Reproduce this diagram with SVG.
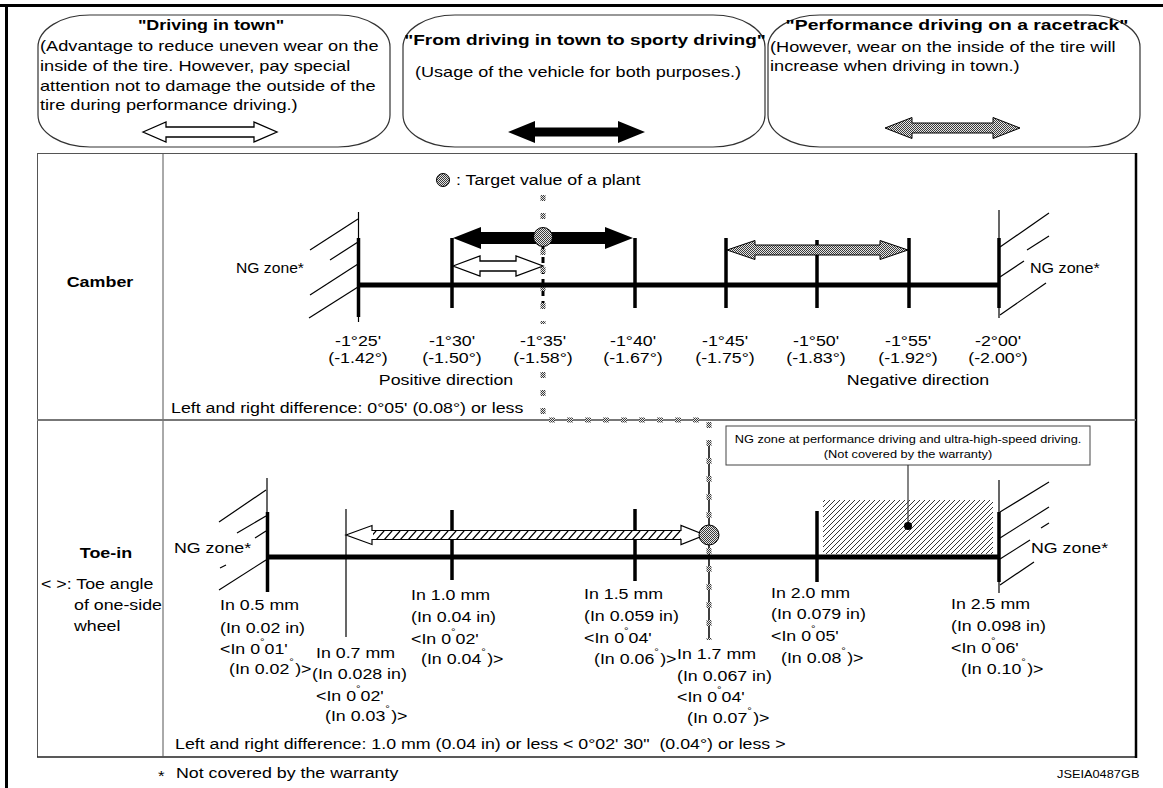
<svg xmlns="http://www.w3.org/2000/svg" width="1163" height="788" viewBox="0 0 1163 788">
<style>
.t{font-family:"Liberation Sans",Arial,Helvetica,sans-serif;font-size:14px;fill:#000}
.b{font-weight:bold}
.tb{font-size:15px;font-weight:bold}
.s{font-size:10px}
.m{text-anchor:middle}
.thin{stroke:#000;stroke-width:1.2;fill:none}
.tick{stroke:#000;stroke-width:3.5;fill:none}
.axis{stroke:#000;stroke-width:5;fill:none}
.bub{fill:#fff;stroke:#333;stroke-width:1.2}
.dotline{stroke:url(#tone);stroke-width:5;stroke-dasharray:6 12;fill:none}
</style>
<defs>
<pattern id="tone" patternUnits="userSpaceOnUse" width="2" height="2">
<rect width="2" height="2" fill="#e6e6e6"/><rect width="1" height="1" fill="#3a3a3a"/><rect x="1" y="1" width="1" height="1" fill="#3a3a3a"/>
</pattern>
<pattern id="hatchA" patternUnits="userSpaceOnUse" width="8" height="9">
<path d="M0,9 L8,0 M-2,2 L1,-1 M7,10 L10,7" stroke="#000" stroke-width="1.2"/>
</pattern>
<pattern id="hatchZ" patternUnits="userSpaceOnUse" width="5" height="5">
<path d="M0,5 L5,0 M-1,1 L1,-1 M4,6 L6,4" stroke="#000" stroke-width="0.8"/>
</pattern>
</defs>
<rect width="1163" height="788" fill="#fff"/>
<!-- frame -->
<line x1="0" y1="5.5" x2="1163" y2="5.5" stroke="#000" stroke-width="3"/>
<line x1="6.5" y1="5" x2="6.5" y2="788" stroke="#000" stroke-width="3"/>

<!-- bubbles -->
<g id="bubble-town">
<rect class="bub" x="38" y="15" width="352" height="132" rx="52" ry="32"/>
<text class="t b m" transform="translate(211 30) scale(1.28 1)">"Driving in town"</text>
<text class="t" transform="translate(40 51) scale(1.3 1)">(Advantage to reduce uneven wear on the</text>
<text class="t" transform="translate(40 71) scale(1.3 1)">inside of the tire. However, pay special</text>
<text class="t" transform="translate(40 91) scale(1.3 1)">attention not to damage the outside of the</text>
<text class="t" transform="translate(40 110) scale(1.3 1)">tire during performance driving.)</text>
<polygon points="143,132 166,122 166,127 254,127 254,122 277,132 254,142 254,137 166,137 166,142" fill="#fff" stroke="#000" stroke-width="1.3"/>
</g>
<g id="bubble-both">
<rect class="bub" x="403" y="15" width="362" height="132" rx="52" ry="32"/>
<text class="t tb m" transform="translate(585 45) scale(1.27 1)">"From driving in town to sporty driving"</text>
<text class="t m" transform="translate(578 77) scale(1.29 1)">(Usage of the vehicle for both purposes.)</text>
<polygon points="508,132 535,121 535,127.5 618,127.5 618,121 645,132 618,143 618,136.5 535,136.5 535,143" fill="#000"/>
</g>
<g id="bubble-track">
<rect class="bub" x="768" y="15" width="372" height="132" rx="52" ry="32"/>
<text class="t tb m" transform="translate(957 30) scale(1.29 1)">"Performance driving on a racetrack"</text>
<text class="t" transform="translate(770 52) scale(1.3 1)">(However, wear on the inside of the tire will</text>
<text class="t" transform="translate(770 71) scale(1.3 1)">increase when driving in town.)</text>
<polygon points="885,128 912,117.5 912,123 993,123 993,117.5 1020,128 993,138.5 993,133 912,133 912,138.5" fill="url(#tone)" stroke="#000" stroke-width="1"/>
</g>

<!-- table -->
<g id="table">
<line x1="37" y1="153.5" x2="1136" y2="153.5" stroke="#555" stroke-width="1"/>
<line x1="37.5" y1="153" x2="37.5" y2="757" stroke="#555" stroke-width="1"/>
<line x1="37" y1="757" x2="1137" y2="757" stroke="#222" stroke-width="1.6"/>
<line x1="1136" y1="153" x2="1136" y2="758" stroke="#000" stroke-width="2.5"/>
<line x1="163" y1="153" x2="163" y2="757" stroke="#555" stroke-width="1"/>
<line x1="37" y1="420" x2="1136" y2="420" stroke="#777" stroke-width="2"/>
</g>

<!-- connectors (target value link) -->
<g id="connectors">
<line x1="543" y1="246" x2="543" y2="308" stroke="#000" stroke-width="3" stroke-dasharray="6 5"/>
<line x1="709" y1="440" x2="709" y2="638" stroke="#000" stroke-width="1.5"/>
<path class="dotline" d="M543,195 V324 M543,372 V420 H709 V640"/>
</g>

<!-- camber row -->
<g id="camber-label">
<text class="t b m" transform="translate(100 287) scale(1.28 1)">Camber</text>
</g>
<g id="camber-legend">
<circle cx="443" cy="180" r="6.5" fill="url(#tone)" stroke="#000" stroke-width="1"/>
<text class="t" transform="translate(456 185) scale(1.27 1)">: Target value of a plant</text>
</g>
<g id="camber-scale">
<line class="axis" x1="358" y1="285" x2="1000" y2="285"/>
<line class="thin" x1="358.5" y1="212" x2="358.5" y2="322"/>
<line class="tick" x1="358.5" y1="238" x2="358.5" y2="317"/>
<line class="thin" x1="358" y1="219" x2="310" y2="250"/>
<line class="thin" x1="358" y1="242" x2="330" y2="260"/>
<line class="thin" x1="358" y1="264" x2="310" y2="295"/>
<line class="thin" x1="358" y1="287" x2="309" y2="318"/>
<line class="thin" x1="999" y1="210" x2="999" y2="318"/>
<line class="tick" x1="999" y1="238" x2="999" y2="308"/>
<line class="thin" x1="1000" y1="247" x2="1049" y2="213"/>
<line class="thin" x1="1027" y1="250" x2="1049" y2="236"/>
<line class="thin" x1="1000" y1="277" x2="1024" y2="261"/>
<line class="thin" x1="1000" y1="315" x2="1046" y2="283"/>
<line class="tick" x1="452" y1="238" x2="452" y2="308"/>
<line class="tick" x1="635" y1="238" x2="635" y2="308"/>
<line class="tick" x1="726" y1="238" x2="726" y2="308"/>
<line class="tick" x1="817" y1="240" x2="817" y2="308"/>
<line class="tick" x1="909" y1="238" x2="909" y2="308"/>
<polygon points="453,238 481,227 481,232 605,232 605,227 633,238 605,249 605,244 481,244 481,249" fill="#000"/>
<polygon points="453,266 480,256 480,261 516,261 516,256 543,266 516,276 516,271 480,271 480,276" fill="#fff" stroke="#000" stroke-width="1.3"/>
<polygon points="727,250 755,240.5 755,245 880,245 880,240.5 908,250 880,259.5 880,255 755,255 755,259.5" fill="url(#tone)" stroke="#000" stroke-width="1"/>
<circle cx="543" cy="237" r="9.5" fill="url(#tone)" stroke="#000" stroke-width="1"/>
<text class="t" transform="translate(236 273) scale(1.12 1)">NG zone*</text>
<text class="t" transform="translate(1030 273) scale(1.15 1)">NG zone*</text>
</g>
<g id="camber-values">
<text class="t m" transform="translate(358 346) scale(1.27 1)">-1°25'</text>
<text class="t m" transform="translate(358 363) scale(1.27 1)">(-1.42°)</text>
<text class="t m" transform="translate(452 346) scale(1.27 1)">-1°30'</text>
<text class="t m" transform="translate(452 363) scale(1.27 1)">(-1.50°)</text>
<text class="t m" transform="translate(543 346) scale(1.27 1)">-1°35'</text>
<text class="t m" transform="translate(543 363) scale(1.27 1)">(-1.58°)</text>
<text class="t m" transform="translate(633 346) scale(1.27 1)">-1°40'</text>
<text class="t m" transform="translate(633 363) scale(1.27 1)">(-1.67°)</text>
<text class="t m" transform="translate(725 346) scale(1.27 1)">-1°45'</text>
<text class="t m" transform="translate(725 363) scale(1.27 1)">(-1.75°)</text>
<text class="t m" transform="translate(816 346) scale(1.27 1)">-1°50'</text>
<text class="t m" transform="translate(816 363) scale(1.27 1)">(-1.83°)</text>
<text class="t m" transform="translate(908 346) scale(1.27 1)">-1°55'</text>
<text class="t m" transform="translate(908 363) scale(1.27 1)">(-1.92°)</text>
<text class="t m" transform="translate(998 346) scale(1.27 1)">-2°00'</text>
<text class="t m" transform="translate(998 363) scale(1.27 1)">(-2.00°)</text>
<text class="t m" transform="translate(446 385) scale(1.27 1)">Positive direction</text>
<text class="t m" transform="translate(918 385) scale(1.27 1)">Negative direction</text>
<text class="t" transform="translate(171 413) scale(1.27 1)">Left and right difference: 0°05' (0.08°) or less</text>
</g>

<!-- toe-in row -->
<g id="toe-label">
<text class="t b m" transform="translate(106 558) scale(1.28 1)">Toe-in</text>
<text class="t" transform="translate(41 589) scale(1.27 1)">&lt; &gt;: Toe angle</text>
<text class="t" transform="translate(74 610) scale(1.27 1)">of one-side</text>
<text class="t" transform="translate(74 631) scale(1.27 1)">wheel</text>
</g>
<g id="toe-scale">
<line class="axis" x1="267" y1="557" x2="1000" y2="557"/>
<line class="thin" x1="267" y1="478" x2="267" y2="592"/>
<line class="tick" x1="267.5" y1="512" x2="267.5" y2="592"/>
<line class="thin" x1="266" y1="490" x2="219" y2="522"/>
<line class="thin" x1="266" y1="516" x2="237" y2="533"/>
<line class="thin" x1="266" y1="531" x2="255" y2="538"/>
<line class="thin" x1="226" y1="565" x2="220" y2="568"/>
<line class="thin" x1="266" y1="560" x2="219" y2="590"/>
<line class="thin" x1="999" y1="480" x2="999" y2="593"/>
<line class="tick" x1="999" y1="512" x2="999" y2="582"/>
<line class="thin" x1="1000" y1="512" x2="1049" y2="482"/>
<line class="thin" x1="1000" y1="538" x2="1049" y2="507"/>
<line class="thin" x1="1041" y1="528" x2="1049" y2="523"/>
<line class="thin" x1="1000" y1="559" x2="1030" y2="540"/>
<line class="thin" x1="1000" y1="585" x2="1034" y2="562"/>
<line class="thin" x1="346" y1="509" x2="346" y2="637"/>
<line class="tick" x1="452" y1="510" x2="452" y2="580"/>
<line class="tick" x1="635" y1="509" x2="635" y2="581"/>
<line class="tick" x1="817" y1="511" x2="817" y2="582"/>
<rect x="823" y="500" width="170" height="54" fill="url(#hatchZ)"/>
<polygon points="346,535 372,525.5 372,530.5 681,530.5 681,525.5 705,535 681,544.5 681,539.5 372,539.5 372,544.5" fill="#fff" stroke="#000" stroke-width="1.2"/>
<rect x="373" y="531" width="308" height="8" fill="url(#hatchA)"/>
<circle cx="709" cy="535" r="10" fill="url(#tone)" stroke="#000" stroke-width="1"/>
<text class="t" transform="translate(174 553) scale(1.27 1)">NG zone*</text>
<text class="t" transform="translate(1031 553) scale(1.27 1)">NG zone*</text>
</g>
<g id="ng-callout">
<rect x="726" y="426" width="364" height="39" fill="#fff" stroke="#444" stroke-width="1"/>
<text class="t s m" transform="translate(908 443) scale(1.28 1)">NG zone at performance driving and ultra-high-speed driving.</text>
<text class="t s m" transform="translate(908 458) scale(1.28 1)">(Not covered by the warranty)</text>
<line x1="908" y1="465" x2="908" y2="526" stroke="#333" stroke-width="1.2"/>
<circle cx="908" cy="526" r="4" fill="#000"/>
</g>
<g id="toe-values">
<text class="t" transform="translate(220 610) scale(1.27 1)">In 0.5 mm</text>
<text class="t" transform="translate(220 633) scale(1.27 1)">(In 0.02 in)</text>
<text class="t" transform="translate(220 654) scale(1.27 1)">&lt;In 0<tspan dy="-9" font-size="9">°</tspan><tspan dy="9">01'</tspan></text>
<text class="t" transform="translate(229 674) scale(1.27 1)">(In 0.02<tspan dy="-9" font-size="9">°</tspan><tspan dy="9" dx="1">)&gt;</tspan></text>

<text class="t" transform="translate(316 658) scale(1.27 1)">In 0.7 mm</text>
<text class="t" transform="translate(312 679) scale(1.27 1)">(In 0.028 in)</text>
<text class="t" transform="translate(316 701) scale(1.27 1)">&lt;In 0<tspan dy="-9" font-size="9">°</tspan><tspan dy="9">02'</tspan></text>
<text class="t" transform="translate(325 721) scale(1.27 1)">(In 0.03<tspan dy="-9" font-size="9">°</tspan><tspan dy="9" dx="1">)&gt;</tspan></text>

<text class="t" transform="translate(411 600) scale(1.27 1)">In 1.0 mm</text>
<text class="t" transform="translate(411 622) scale(1.27 1)">(In 0.04 in)</text>
<text class="t" transform="translate(411 644) scale(1.27 1)">&lt;In 0<tspan dy="-9" font-size="9">°</tspan><tspan dy="9">02'</tspan></text>
<text class="t" transform="translate(421 664) scale(1.27 1)">(In 0.04<tspan dy="-9" font-size="9">°</tspan><tspan dy="9" dx="1">)&gt;</tspan></text>

<text class="t" transform="translate(584 599) scale(1.27 1)">In 1.5 mm</text>
<text class="t" transform="translate(584 621) scale(1.27 1)">(In 0.059 in)</text>
<text class="t" transform="translate(584 643) scale(1.27 1)">&lt;In 0<tspan dy="-9" font-size="9">°</tspan><tspan dy="9">04'</tspan></text>
<text class="t" transform="translate(594 664) scale(1.27 1)">(In 0.06<tspan dy="-9" font-size="9">°</tspan><tspan dy="9" dx="1">)&gt;</tspan></text>

<text class="t" transform="translate(677 659) scale(1.27 1)">In 1.7 mm</text>
<text class="t" transform="translate(677 681) scale(1.27 1)">(In 0.067 in)</text>
<text class="t" transform="translate(677 702) scale(1.27 1)">&lt;In 0<tspan dy="-9" font-size="9">°</tspan><tspan dy="9">04'</tspan></text>
<text class="t" transform="translate(687 723) scale(1.27 1)">(In 0.07<tspan dy="-9" font-size="9">°</tspan><tspan dy="9" dx="1">)&gt;</tspan></text>

<text class="t" transform="translate(771 598) scale(1.27 1)">In 2.0 mm</text>
<text class="t" transform="translate(771 619) scale(1.27 1)">(In 0.079 in)</text>
<text class="t" transform="translate(771 641) scale(1.27 1)">&lt;In 0<tspan dy="-9" font-size="9">°</tspan><tspan dy="9">05'</tspan></text>
<text class="t" transform="translate(781 663) scale(1.27 1)">(In 0.08<tspan dy="-9" font-size="9">°</tspan><tspan dy="9" dx="1">)&gt;</tspan></text>

<text class="t" transform="translate(951 609) scale(1.27 1)">In 2.5 mm</text>
<text class="t" transform="translate(951 631) scale(1.27 1)">(In 0.098 in)</text>
<text class="t" transform="translate(951 653) scale(1.27 1)">&lt;In 0<tspan dy="-9" font-size="9">°</tspan><tspan dy="9">06'</tspan></text>
<text class="t" transform="translate(961 674) scale(1.27 1)">(In 0.10<tspan dy="-9" font-size="9">°</tspan><tspan dy="9" dx="1">)&gt;</tspan></text>

<text class="t" transform="translate(175 749) scale(1.27 1)">Left and right difference: 1.0 mm (0.04 in) or less &lt; 0°02' 30"&#160; (0.04°) or less &gt;</text>
</g>

<!-- footnotes -->
<g id="footnote">
<text class="t" transform="translate(158 781) scale(1.2 1)" font-size="11">*</text>
<text class="t" transform="translate(176 778) scale(1.27 1)">Not covered by the warranty</text>
<text class="t s" transform="translate(1057 778) scale(1.28 1)">JSEIA0487GB</text>
</g>
</svg>
